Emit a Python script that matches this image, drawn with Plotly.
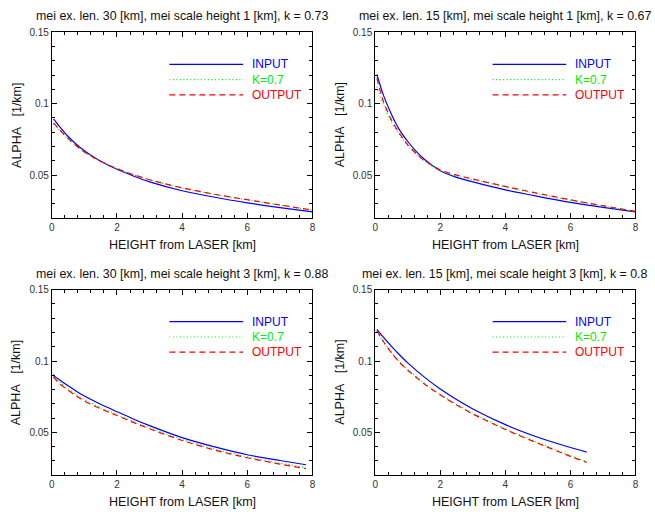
import plotly.graph_objects as go

# ---------------- data ----------------
titles = [
    "mei ex. len. 30 [km], mei scale height 1 [km], k = 0.73",
    "mei ex. len. 15 [km], mei scale height 1 [km], k = 0.67",
    "mei ex. len. 30 [km], mei scale height 3 [km], k = 0.88",
    "mei ex. len. 15 [km], mei scale height 3 [km], k = 0.8",
]
series_names = ["INPUT", "K=0.7", "OUTPUT"]
series_colors = ["#0000ff", "#00ee00", "#ff0000"]
series_dash = ["solid", "1px,2.5px", "6px,4px"]

x_title = "HEIGHT from LASER [km]"
y_title = "ALPHA\u00a0\u00a0\u00a0[1/km]"

# panel 1: ex. len 30, scale height 1
h1 = [0.05, 0.25, 0.5, 0.75, 1, 1.25, 1.5, 2, 2.5, 3, 4, 5, 6, 7, 8]
input1 = [0.0893, 0.0836, 0.0770, 0.0716, 0.0670, 0.0632, 0.0597, 0.0540, 0.0493, 0.0452, 0.0390, 0.0344, 0.0305, 0.0271, 0.0241]
k07_1 = [0.0858, 0.0810, 0.0752, 0.0703, 0.0660, 0.0625, 0.0595, 0.0544, 0.0502, 0.0466, 0.0408, 0.0363, 0.0325, 0.0288, 0.0252]
output1 = [0.0865, 0.0815, 0.0755, 0.0705, 0.0662, 0.0627, 0.0596, 0.0545, 0.0503, 0.0467, 0.0410, 0.0365, 0.0327, 0.0290, 0.0254]

# panel 2: ex. len 15, scale height 1
h2 = [0.05, 0.25, 0.5, 0.75, 1, 1.25, 1.5, 2, 2.5, 3, 4, 5, 6, 7, 8]
input2 = [0.1205, 0.1060, 0.0925, 0.0815, 0.0735, 0.0668, 0.0612, 0.0530, 0.0484, 0.0452, 0.0396, 0.0350, 0.0308, 0.0273, 0.0242]
k07_2 = [0.1120, 0.0990, 0.0870, 0.0780, 0.0705, 0.0647, 0.0600, 0.0532, 0.0495, 0.0468, 0.0416, 0.0368, 0.0323, 0.0283, 0.0244]
output2 = [0.1180, 0.1015, 0.0885, 0.0790, 0.0712, 0.0652, 0.0603, 0.0535, 0.0499, 0.0472, 0.0420, 0.0372, 0.0326, 0.0285, 0.0245]

# panel 3: ex. len 30, scale height 3
h3 = [0.05, 0.25, 0.5, 0.75, 1, 1.5, 2, 2.5, 3, 4, 5, 6, 7, 7.8]
input3 = [0.0898, 0.0865, 0.0826, 0.0789, 0.0755, 0.0697, 0.0645, 0.0594, 0.0547, 0.0463, 0.0398, 0.0343, 0.0303, 0.0273]
k07_3 = [0.0910, 0.0852, 0.0806, 0.0765, 0.0730, 0.0673, 0.0625, 0.0577, 0.0532, 0.0450, 0.0383, 0.0329, 0.0285, 0.0253]
output3 = [0.0888, 0.0838, 0.0795, 0.0755, 0.0720, 0.0665, 0.0618, 0.0570, 0.0525, 0.0443, 0.0376, 0.0322, 0.0278, 0.0246]

# panel 4: ex. len 15, scale height 3
h4 = [0.05, 0.25, 0.5, 0.75, 1, 1.5, 2, 2.5, 3, 4, 5, 6, 6.5]
input4 = [0.1222, 0.1167, 0.1102, 0.1042, 0.0987, 0.0889, 0.0804, 0.0730, 0.0664, 0.0554, 0.0466, 0.0394, 0.0362]
k07_4 = [0.1205, 0.1135, 0.1060, 0.0994, 0.0940, 0.0846, 0.0767, 0.0697, 0.0634, 0.0525, 0.0429, 0.0337, 0.0295]
output4 = [0.1212, 0.1137, 0.1057, 0.0990, 0.0935, 0.0841, 0.0762, 0.0692, 0.0629, 0.0520, 0.0424, 0.0332, 0.0290]

panels = [
    (h1, [input1, k07_1, output1]),
    (h2, [input2, k07_2, output2]),
    (h3, [input3, k07_3, output3]),
    (h4, [input4, k07_4, output4]),
]

x_range = [0, 8]
y_range = [0.02, 0.15]

# ---------------- layout geometry ----------------
W, H = 655, 517
x_domains = [[49.3 / W, 312.3 / W], [375.7 / W, 638.3 / W]]
y_domains = [[1 - 214.3 / H, 1 - 26.7 / H], [1 - 474.7 / H, 1 - 287.0 / H]]

FONT = "Liberation Sans, Arial, Helvetica, sans-serif"

fig = go.Figure()
annotations = []
shapes = []

for i, (hx, ys) in enumerate(panels):
    row, col = divmod(i, 2)
    ax = "" if i == 0 else str(i + 1)
    xa, ya = "x" + ax, "y" + ax
    for name, color, dash, yv in zip(series_names, series_colors, series_dash, ys):
        fig.add_trace(go.Scatter(
            x=hx, y=yv, mode="lines", name=name, showlegend=False,
            line=dict(color=color, width=1.2, dash=dash, shape="spline", smoothing=0.7),
            xaxis=xa, yaxis=ya, hoverinfo="skip",
        ))
    common = dict(
        showgrid=False, zeroline=False, showline=True, linecolor="black", linewidth=1,
        mirror="ticks", ticks="inside", ticklen=5, tickcolor="black", tickwidth=1,
        tickfont=dict(family=FONT, size=10, color="#333333"),
    )
    fig.layout["xaxis" + ax] = dict(
        domain=x_domains[col], range=x_range, anchor=ya,
        tickmode="linear", tick0=0, dtick=2,
        minor=dict(dtick=0.4, tick0=0, ticks="inside", ticklen=3, tickcolor="black"),
        **common,
    )
    fig.layout["yaxis" + ax] = dict(
        domain=y_domains[row], range=y_range, anchor=xa,
        tickmode="linear", tick0=0, dtick=0.05,
        minor=dict(dtick=0.01, tick0=0, ticks="inside", ticklen=3, tickcolor="black"),
        **common,
    )
    xd, yd = xa + " domain", ya + " domain"
    # panel title
    annotations.append(dict(text=titles[i], xref=xd, yref=yd, x=0.5, y=1, yshift=16,
                            showarrow=False, xanchor="center", yanchor="middle",
                            font=dict(family=FONT, size=12.4, color="#111111")))
    # axis titles
    annotations.append(dict(text=x_title, xref=xd, yref=yd, x=0.5, y=0, yshift=-27,
                            showarrow=False, xanchor="center", yanchor="middle",
                            font=dict(family=FONT, size=12.5, color="#111111")))
    annotations.append(dict(text=y_title, xref=xd, yref=yd, x=0, y=0.5, xshift=-35,
                            textangle=-90, showarrow=False, xanchor="center", yanchor="middle",
                            font=dict(family=FONT, size=12.5, color="#111111")))
    # in-plot key
    key_y = [0.828, 0.745, 0.663]
    for name, color, dash, ky in zip(series_names, series_colors, series_dash, key_y):
        shapes.append(dict(type="line", xref=xd, yref=yd, x0=0.451, x1=0.734, y0=ky, y1=ky,
                           line=dict(color=color, width=1.2, dash=dash)))
        annotations.append(dict(text=name, xref=xd, yref=yd, x=0.76, y=ky,
                                showarrow=False, xanchor="left", yanchor="middle",
                                font=dict(family=FONT, size=12, color=color)))

fig.update_layout(
    width=W, height=H, margin=dict(l=0, r=0, t=0, b=0),
    paper_bgcolor="white", plot_bgcolor="white",
    annotations=annotations, shapes=shapes, showlegend=False,
)

fig.write_html(
    "out.html",
    config={"displayModeBar": False},
    post_script="document.body.style.margin='0';document.body.style.overflow='hidden';",
)
